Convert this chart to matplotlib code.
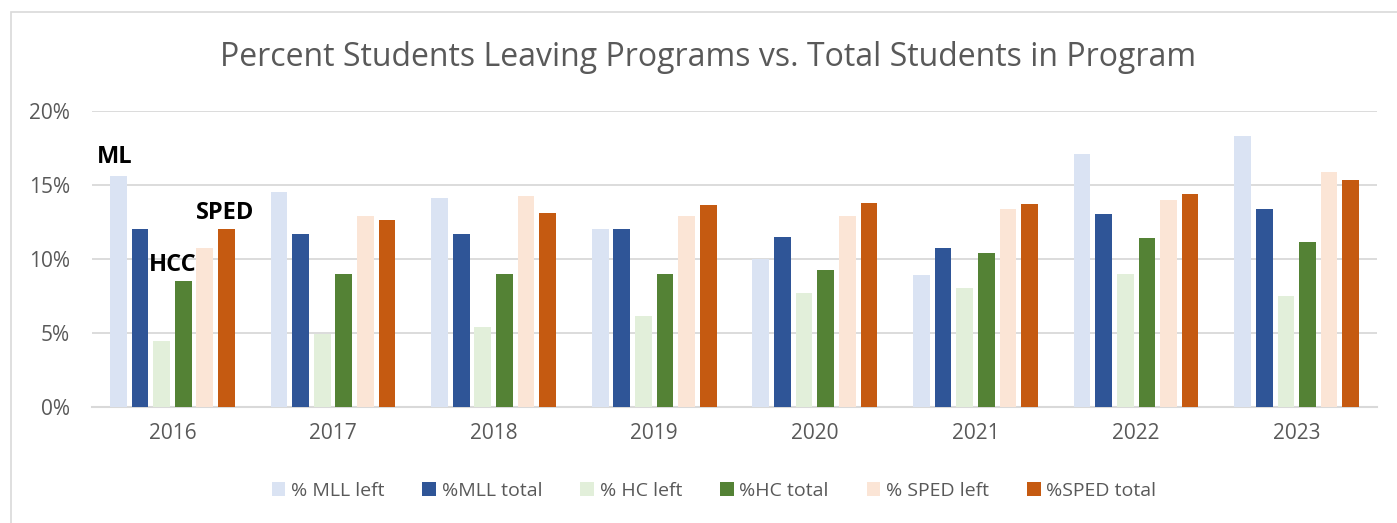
import numpy as np
import matplotlib.pyplot as plt
from matplotlib.patches import Rectangle

years = ["2016", "2017", "2018", "2019", "2020", "2021", "2022", "2023"]

mll_left = [15.6, 14.5, 14.1, 12.0, 10.0, 8.9, 17.1, 18.3]
mll_total = [12.0, 11.7, 11.7, 12.0, 11.5, 10.7, 13.0, 13.4]
hc_left = [4.45, 4.9, 5.4, 6.1, 7.7, 8.0, 9.0, 7.5]
hc_total = [8.5, 9.0, 9.0, 9.0, 9.25, 10.4, 11.4, 11.15]
sped_left = [10.75, 12.9, 14.25, 12.9, 12.9, 13.4, 13.95, 15.9]
sped_total = [12.05, 12.65, 13.1, 13.65, 13.75, 13.7, 14.4, 15.35]

labels = ["% MLL left", "%MLL total", "% HC left", "%HC total", "% SPED left", "%SPED total"]
colors = ["#DAE3F3", "#2F5597", "#E2EFDA", "#548235", "#FBE5D6", "#C55A11"]
series = [mll_left, mll_total, hc_left, hc_total, sped_left, sped_total]

plt.rcParams['font.family'] = ['Open Sans', 'DejaVu Sans']
grey = "#595959"

fig = plt.figure(figsize=(13.97, 5.23), dpi=100)
ax = fig.add_axes([0.0659, 0.2224, 0.9198, 0.5654])

x = np.arange(len(years))
pitch = 0.1345
width = 0.104
for i, (vals, lab, col) in enumerate(zip(series, labels, colors)):
    ax.bar(x + (i - 2.5) * pitch, vals, width, color=col, label=lab, zorder=3)

ax.set_xlim(-0.5, len(years) - 0.5)
ax.set_ylim(0, 20)
ax.set_yticks([0, 5, 10, 15, 20])
ax.set_yticklabels([f"{v}%" for v in [0, 5, 10, 15, 20]])
ax.set_xticks(x)
ax.set_xticklabels(years)
ax.tick_params(axis='both', length=0, labelsize=15, colors=grey)
ax.tick_params(axis='y', pad=16)
ax.tick_params(axis='x', pad=12)
ax.yaxis.grid(True, color="#D9D9D9", linewidth=1.3, zorder=0)
for s in ["top", "right", "left"]:
    ax.spines[s].set_visible(False)
ax.spines["bottom"].set_color("#D9D9D9")
ax.spines["bottom"].set_linewidth(1.5)

# group labels on first year
ax.text(-0.469, 16.49, "ML", fontsize=17, fontweight='bold', color='black', va='baseline', ha='left', zorder=4)
ax.text(-0.149, 9.15, "HCC", fontsize=17, fontweight='bold', color='black', va='baseline', ha='left', zorder=4)
ax.text(0.146, 12.68, "SPED", fontsize=17, fontweight='bold', color='black', va='baseline', ha='left', zorder=4)

fig.text(708.5 / 1397, 1 - 58 / 523, "Percent Students Leaving Programs vs. Total Students in Program",
         ha='center', va='center', fontsize=23, color=grey)

fig.legend(loc='center', bbox_to_anchor=(714 / 1397, 1 - 491 / 523), ncol=6, frameon=False,
           fontsize=14, labelcolor=grey, handlelength=0.7, handleheight=0.7,
           handletextpad=0.3, columnspacing=1.95)

fig.patches.append(Rectangle((11 / 1397, -0.1), 1.2, 1 - 12 / 523 + 0.1, transform=fig.transFigure,
                             fill=False, edgecolor="#D9D9D9", linewidth=1.2))

fig.savefig("out.png", dpi=100)
